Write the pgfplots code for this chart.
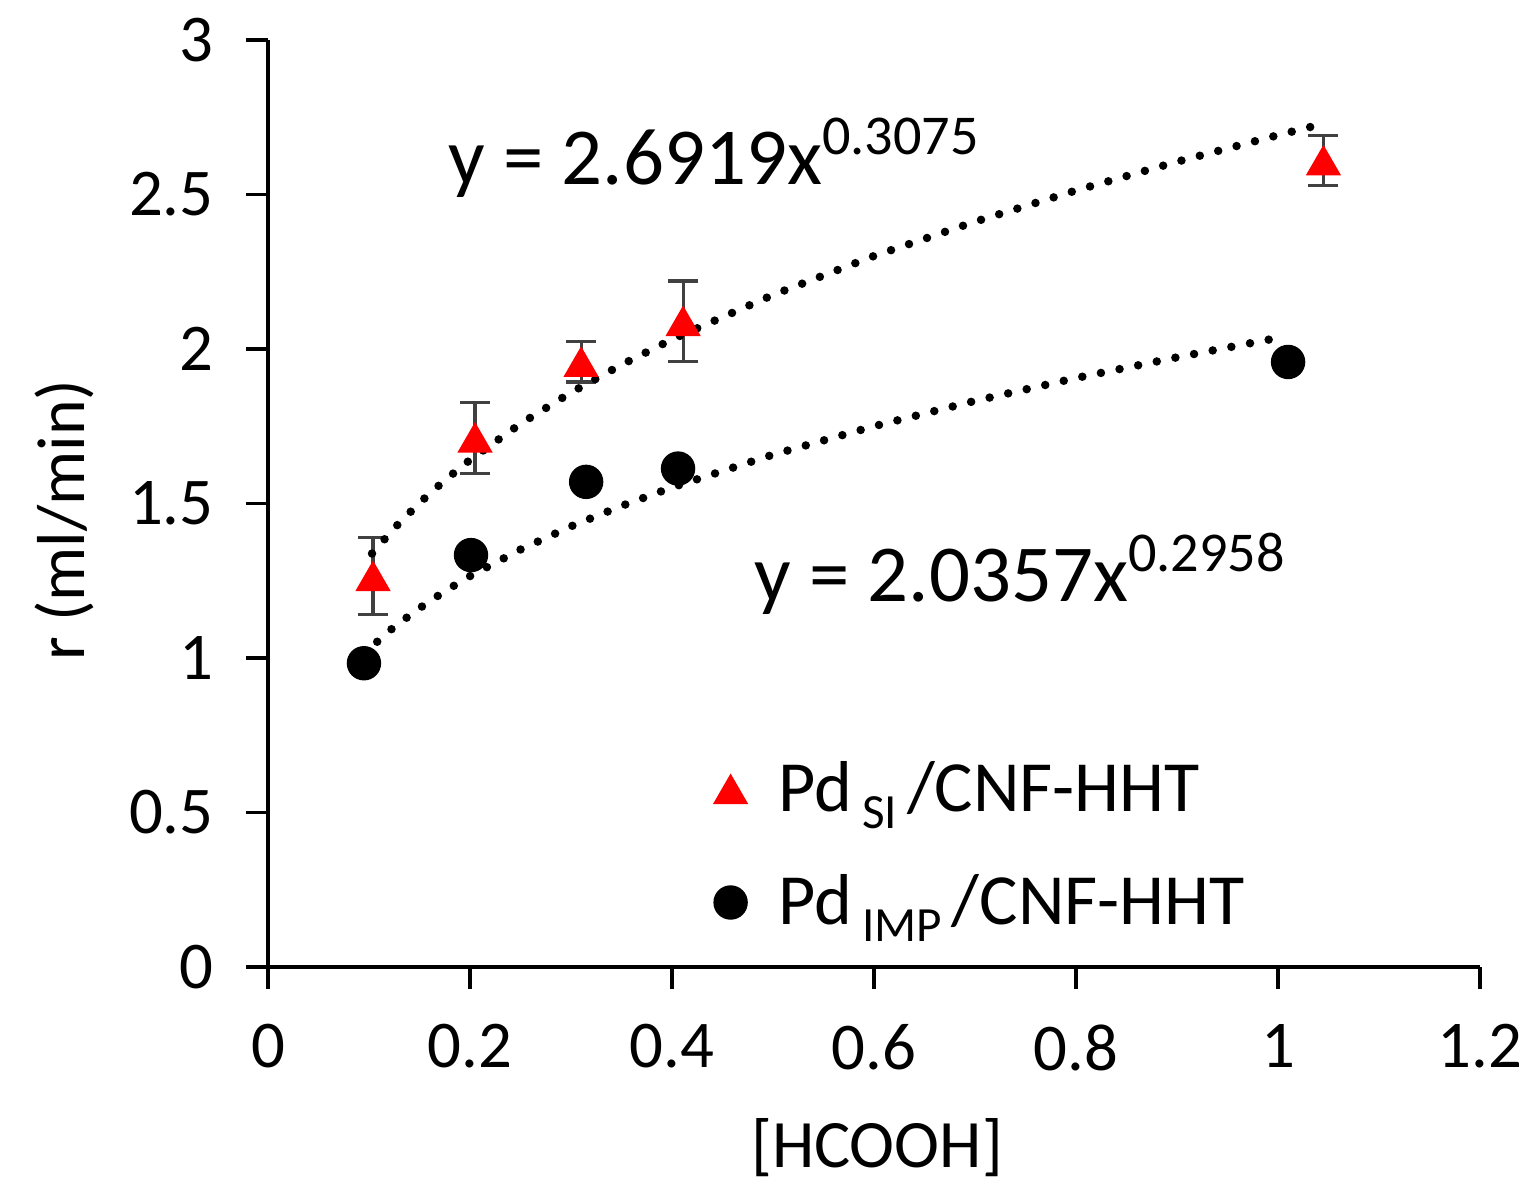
\documentclass[border=0pt]{standalone}
\usepackage{fontspec}
\setmainfont{Carlito}
\usepackage{pgfplots}
\pgfplotsset{compat=1.18}
\definecolor{errgray}{RGB}{64,64,64}
\newcommand{\lsub}[1]{\kern0.1cm\raisebox{-0.17cm}{\fontsize{14}{16}\selectfont #1}\kern0.1cm}
\newcommand{\esup}[1]{\raisebox{0.30cm}{\fontsize{16}{19}\selectfont #1}}
\begin{document}
\begin{tikzpicture}
\useasboundingbox (-2.68,-2.32) rectangle (12.70,9.67);
\begin{axis}[
  scale only axis,
  width=12.12cm, height=9.27cm,
  xmin=0, xmax=1.2, ymin=0, ymax=3,
  xtick={0,0.2,0.4,0.6,0.8,1,1.2},
  ytick={0,0.5,1,1.5,2,2.5,3},
  axis lines=left,
  axis line style={-, line width=1.1pt, black},
  tick style={line width=1.1pt, black},
  tick align=outside,
  major tick length=0.22cm,
  /pgf/number format/assume math mode=true,
  tick label style={font=\fontsize{19}{23}\selectfont},
  xticklabel style={yshift=-0.23cm},
  yticklabel style={xshift=-0.2cm},
  xlabel={[HCOOH]},
  ylabel={r (ml/min)},
  every axis x label/.style={at={(axis description cs:0.5025,-0.195)}, anchor=center, font=\fontsize{19.3}{23}\selectfont},
  every axis y label/.style={at={(axis description cs:-0.168,0.482)}, anchor=center, rotate=90, font=\fontsize{19.3}{23}\selectfont},
  clip=false,
  legend style={at={(axis cs:0.441,0.69)}, anchor=north west, draw=none, fill=none,
    font=\fontsize{20.5}{24}\selectfont, row sep=0.44cm, inner sep=0pt},
  legend cell align=left,
]
\addplot[only marks, mark=triangle*, mark size=0.19cm, color=red,
  mark options={yshift=-0.0475cm},
  error bars/.cd, y dir=both, y explicit,
  error bar style={errgray, line width=0.9pt},
  error mark options={errgray, rotate=90, mark size=0.15cm, line width=0.9pt}]
  coordinates {
  (0.104,1.265) +- (0,0.125)
  (0.205,1.713) +- (0,0.115)
  (0.310,1.958) +- (0,0.065)
  (0.411,2.090) +- (0,0.130)
  (1.045,2.610) +- (0,0.080)
  };
\addlegendentry{\hspace{0.24cm}Pd\lsub{SI}/CNF-HHT}
\addplot[only marks, mark=*, mark size=0.165cm, color=black]
  coordinates {
  (0.095,0.983)
  (0.201,1.333)
  (0.315,1.570)
  (0.406,1.613)
  (1.010,1.958)
  };
\addlegendentry{\hspace{0.24cm}Pd\lsub{IMP}/CNF-HHT}
% trendlines
\addplot[forget plot, black, line width=0.085cm, line cap=round, dash pattern=on 0pt off 0.19cm]
  coordinates {
  (0.103,1.338) (0.125,1.420) (0.150,1.502) (0.175,1.575) (0.200,1.641)
  (0.250,1.758) (0.300,1.859) (0.350,1.949) (0.400,2.031) (0.500,2.175)
  (0.600,2.301) (0.700,2.412) (0.800,2.513) (0.900,2.606) (1.000,2.692) (1.040,2.725)
  };
\addplot[forget plot, black, line width=0.085cm, line cap=round, dash pattern=on 0pt off 0.19cm]
  coordinates {
  (0.094,1.012) (0.125,1.101) (0.150,1.161) (0.175,1.216) (0.200,1.265)
  (0.250,1.351) (0.300,1.426) (0.350,1.492) (0.400,1.552) (0.500,1.658)
  (0.600,1.750) (0.700,1.832) (0.800,1.906) (0.900,1.973) (1.000,2.036)
  };
\node[anchor=base west, inner sep=0pt, font=\fontsize{23}{28}\selectfont] at (axis cs:0.178,2.531) {y = 2.6919x\esup{0.3075}};
\node[anchor=base west, inner sep=0pt, font=\fontsize{23}{28}\selectfont] at (axis cs:0.481,1.184) {y = 2.0357x\esup{0.2958}};
\end{axis}
\end{tikzpicture}
\end{document}
